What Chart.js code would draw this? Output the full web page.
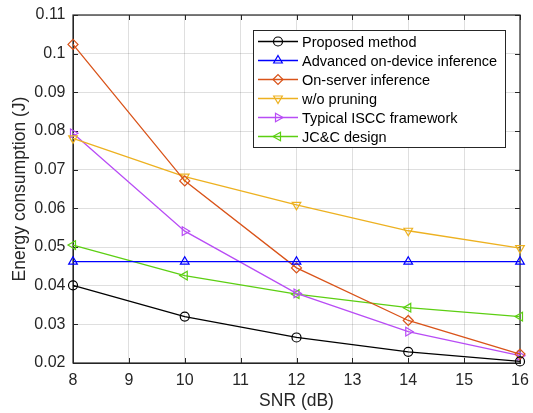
<!DOCTYPE html>
<html>
<head>
<meta charset="utf-8">
<script src="https://cdn.jsdelivr.net/npm/chart.js@4.4.1/dist/chart.umd.min.js"></script>
<style>
  html, body { margin: 0; padding: 0; background: #fff; }
  #wrap { width: 533px; height: 413px; }
</style>
</head>
<body>
<div id="wrap"><canvas id="chart" width="533" height="413"></canvas></div>
<script>
const snr = [8, 10, 12, 14, 16];
const proposed = [0.0401, 0.0320, 0.0266, 0.0229, 0.0204];
const advanced = [0.0462, 0.0462, 0.0462, 0.0462, 0.0462];
const onServer = [0.1024, 0.0671, 0.0446, 0.0310, 0.0223];
const noPruning = [0.0781, 0.0682, 0.0609, 0.0542, 0.0497];
const typicalIscc = [0.0794, 0.0541, 0.0380, 0.0281, 0.0219];
const jcc = [0.0505, 0.0426, 0.0378, 0.0343, 0.0320];
const yTicks = [0.02, 0.03, 0.04, 0.05, 0.06, 0.07, 0.08, 0.09, 0.1, 0.11];

const AX = '#262626';
const FONT = "'Liberation Sans', Arial, Helvetica, sans-serif";

const series = [
    { label: 'Proposed method', data: proposed, color: '#000000', style: 'circle', rot: 0, r: 4.5 },
    { label: 'Advanced on-device inference', data: advanced, color: '#0000ff', style: 'triangle', rot: 0, r: 5 },
    { label: 'On-server inference', data: onServer, color: '#d95319', style: 'rectRot', rot: 0, r: 5 },
    { label: 'w/o pruning', data: noPruning, color: '#edb120', style: 'triangle', rot: 180, r: 5 },
    { label: 'Typical ISCC framework', data: typicalIscc, color: '#b84cf5', style: 'triangle', rot: 90, r: 5 },
    { label: 'JC&C design', data: jcc, color: '#5ccf12', style: 'triangle', rot: 270, r: 5 }
];

const datasets = series.map(s => ({
    label: s.label,
    data: s.data.map((v, i) => ({ x: snr[i], y: v })),
    borderColor: s.color,
    backgroundColor: 'rgba(0,0,0,0)',
    borderWidth: 1.3,
    pointStyle: s.style,
    rotation: s.rot,
    pointRadius: s.r,
    pointBorderWidth: 1.2,
    pointBorderColor: s.color,
    pointBackgroundColor: 'rgba(0,0,0,0)',
    clip: false,
    tension: 0
}));

// box, inward ticks and legend drawn like the original figure
const framePlugin = {
    id: 'frame',
    beforeDatasetsDraw(chart) {
        const { ctx, chartArea: a, scales } = chart;
        ctx.save();
        ctx.strokeStyle = AX;
        ctx.lineWidth = 1;
        ctx.beginPath();
        scales.x.ticks.forEach(t => {
            const px = Math.round(scales.x.getPixelForValue(t.value)) + 0.5;
            ctx.moveTo(px, a.bottom); ctx.lineTo(px, a.bottom - 5);
            ctx.moveTo(px, a.top); ctx.lineTo(px, a.top + 5);
        });
        scales.y.ticks.forEach(t => {
            const py = Math.round(scales.y.getPixelForValue(t.value)) + 0.5;
            ctx.moveTo(a.left, py); ctx.lineTo(a.left + 5, py);
            ctx.moveTo(a.right, py); ctx.lineTo(a.right - 5, py);
        });
        ctx.stroke();
        ctx.lineWidth = 1.2;
        ctx.strokeRect(a.left, a.top, a.right - a.left, a.bottom - a.top);
        ctx.restore();
    },
    afterDatasetsDraw(chart) {
        const { ctx } = chart;
        ctx.save();
        const lx = 253, ly = 30, lw = 252, lh = 117;
        ctx.fillStyle = '#fff';
        ctx.fillRect(lx, ly, lw, lh);
        ctx.lineWidth = 1;
        ctx.strokeStyle = AX;
        ctx.strokeRect(lx + 0.5, ly + 0.5, lw, lh);
        ctx.font = '14.5px ' + FONT;
        ctx.textBaseline = 'middle';
        chart.data.datasets.forEach((d, i) => {
            const y = 41.5 + i * 19;
            ctx.strokeStyle = d.borderColor;
            ctx.lineWidth = 1.3;
            ctx.beginPath();
            ctx.moveTo(258, y); ctx.lineTo(298, y);
            ctx.stroke();
            ctx.lineWidth = 1.2;
            ctx.fillStyle = 'rgba(0,0,0,0)';
            Chart.helpers.drawPoint(ctx, {
                pointStyle: d.pointStyle, rotation: d.rotation,
                radius: d.pointRadius, borderWidth: 1.2
            }, 278, y);
            ctx.fillStyle = '#000';
            ctx.fillText(d.label, 302, y + 1);
        });
        ctx.restore();
    }
};

const ctx = document.getElementById('chart').getContext('2d');
const chart = new Chart(ctx, {
    type: 'line',
    data: { datasets },
    options: {
        responsive: false,
        animation: false,
        layout: { padding: { top: 15, right: 13, left: 0, bottom: 0 } },
        plugins: { legend: { display: false }, tooltip: { enabled: false } },
        scales: {
            x: {
                type: 'linear',
                min: 8, max: 16,
                afterFit: s => { s.height = 50; s.paddingRight = 0; s.paddingLeft = 0; },
                ticks: { stepSize: 1, color: AX, font: { family: FONT, size: 16 }, padding: 8, maxRotation: 0 },
                grid: { color: 'rgba(38,38,38,0.15)', tickLength: 0, drawTicks: false },
                border: { color: AX, width: 1 },
                title: { display: true, text: 'SNR (dB)', color: AX, font: { family: FONT, size: 17.5 }, padding: { top: 0, bottom: 1 } }
            },
            y: {
                type: 'linear',
                min: 0.02, max: 0.11,
                afterFit: s => { s.width = 73; s.paddingTop = 0; s.paddingBottom = 0; },
                afterBuildTicks: s => { s.ticks = yTicks.map(v => ({ value: v })); },
                ticks: {
                    color: AX, font: { family: FONT, size: 16 }, padding: 7.5,
                    callback: v => String(Number(v.toFixed(2)))
                },
                grid: { color: 'rgba(38,38,38,0.15)', tickLength: 0, drawTicks: false },
                border: { color: AX, width: 1 },
                title: { display: true, text: 'Energy consumption (J)', color: AX, font: { family: FONT, size: 17.5 }, padding: { top: 10, bottom: 0 } }
            }
        }
    },
    plugins: [framePlugin]
});
</script>
</body>
</html>
